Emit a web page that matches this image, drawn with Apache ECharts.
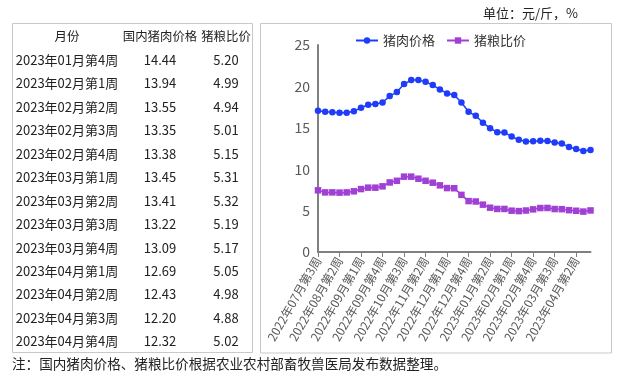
<!DOCTYPE html>
<html>
<head>
<meta charset="utf-8">
<script src="https://cdn.jsdelivr.net/npm/echarts@6/dist/echarts.min.js"></script>
<style>
html,body{margin:0;padding:0;background:#fff;}
#chart{width:624px;height:375px;}
</style>
</head>
<body>
<div id="chart"></div>
<script>
// ---- data ----
var categories = [
  '2022年07月第3周','2022年07月第4周','2022年08月第1周','2022年08月第2周','2022年08月第3周','2022年08月第4周',
  '2022年09月第1周','2022年09月第2周','2022年09月第3周','2022年09月第4周','2022年10月第1周','2022年10月第2周',
  '2022年10月第3周','2022年10月第4周','2022年11月第1周','2022年11月第2周','2022年11月第3周','2022年11月第4周',
  '2022年12月第1周','2022年12月第2周','2022年12月第3周','2022年12月第4周','2022年12月第5周','2023年01月第1周',
  '2023年01月第2周','2023年01月第3周','2023年01月第4周','2023年02月第1周','2023年02月第2周','2023年02月第3周',
  '2023年02月第4周','2023年03月第1周','2023年03月第2周','2023年03月第3周','2023年03月第4周','2023年04月第1周',
  '2023年04月第2周','2023年04月第3周','2023年04月第4周'
];
var porkPrice = [17.05,16.93,16.89,16.81,16.81,17.01,17.42,17.78,17.86,18.06,18.83,19.31,20.28,20.76,20.76,20.56,20.16,19.63,19.15,18.95,18.06,16.93,16.45,15.60,14.96,14.45,14.44,13.94,13.55,13.35,13.38,13.45,13.41,13.22,13.09,12.69,12.43,12.20,12.32];
var hogGrainRatio = [7.45,7.20,7.20,7.17,7.20,7.33,7.60,7.77,7.77,7.93,8.40,8.60,9.10,9.10,8.85,8.60,8.37,8.05,7.72,7.70,6.90,6.15,6.10,5.72,5.35,5.20,5.20,4.99,4.94,5.01,5.15,5.31,5.32,5.19,5.17,5.05,4.98,4.88,5.02];
var seriesNames = ['猪肉价格','猪粮比价'];
var tableHeaders = ['月份','国内猪肉价格','猪粮比价'];
var tableRowCount = 13;
var unitText = '单位：元/斤，%';
var noteText = '注：国内猪肉价格、猪粮比价根据农业农村部畜牧兽医局发布数据整理。';

// ---- build ----
var FONT = '"Noto Sans CJK SC", "Noto Sans", sans-serif';
var TEXT_COLOR = '#222222';
var BLUE = '#1E3CFA';
var PURPLE = '#A040D4';

var graphics = [];
graphics.push({type:'rect', shape:{x:12.5,y:23.5,width:240,height:329}, style:{fill:'none',stroke:'#C9C9C9',lineWidth:1}, silent:true});
graphics.push({type:'rect', shape:{x:260.5,y:23.5,width:351,height:329.5}, style:{fill:'none',stroke:'#C9C9C9',lineWidth:1}, silent:true});

function txt(x, y, s, size, align, fam, color) {
  return {type:'text', silent:true, style:{
    x:x, y:y, text:s, fill:color||TEXT_COLOR,
    font: size + 'px ' + (fam||FONT),
    textAlign: align||'center', textVerticalAlign:'middle',
    align: align||'center', verticalAlign:'middle'
  }};
}
var colX = [67, 160, 226];
var headerY = 36.5;
var rowY0 = 60, rowStep = 23.45;
tableHeaders.forEach(function(h, i){ graphics.push(txt(colX[i], headerY, h, 12.4)); });
var start = categories.length - tableRowCount;
for (var r = 0; r < tableRowCount; r++) {
  var idx = start + r;
  var y = rowY0 + r*rowStep;
  graphics.push(txt(colX[0], y, categories[idx], 13));
  graphics.push(txt(colX[1], y, porkPrice[idx].toFixed(2), 13));
  graphics.push(txt(colX[2], y, hogGrainRatio[idx].toFixed(2), 13));
}
graphics.push(txt(578, 13, unitText, 13, 'right'));
graphics.push(txt(12, 364, noteText, 13.6, 'left'));

var chart = echarts.init(document.getElementById('chart'), null, {renderer:'canvas'});
chart.setOption({
  animation: false,
  backgroundColor: '#ffffff',
  textStyle: {fontFamily: FONT},
  legend: {
    left: 350, top: 29,
    itemWidth: 22, itemHeight: 8, itemGap: 11,
    textStyle: {fontSize: 13, color: '#333333', fontFamily: FONT},
    data: seriesNames
  },
  grid: {left: 318, right: 33.5, top: 45, bottom: 123, containLabel: false},
  xAxis: {
    type: 'category',
    data: categories,
    boundaryGap: false,
    axisLine: {show: true, lineStyle: {color: '#808080', width: 2}},
    axisTick: {show: true, interval: 2, length: 5, lineStyle: {color: '#808080', width: 1}},
    axisLabel: {interval: 2, rotate: 60, fontSize: 12, color: '#595959', margin: 6, fontFamily: FONT},
    splitLine: {show: false}
  },
  yAxis: {
    type: 'value',
    min: 0, max: 25, interval: 5,
    axisLine: {show: true, lineStyle: {color: '#808080', width: 2}},
    axisTick: {show: false},
    axisLabel: {fontSize: 14, color: '#595959', margin: 8, fontFamily: FONT},
    splitLine: {show: false}
  },
  series: [
    {
      name: seriesNames[0], type: 'line', data: porkPrice,
      symbol: 'circle', symbolSize: 6.5, showAllSymbol: true,
      itemStyle: {color: BLUE},
      lineStyle: {color: BLUE, width: 1.5}
    },
    {
      name: seriesNames[1], type: 'line', data: hogGrainRatio,
      symbol: 'rect', symbolSize: 6.5, showAllSymbol: true,
      itemStyle: {color: PURPLE},
      lineStyle: {color: PURPLE, width: 1.5}
    }
  ],
  graphic: graphics
});
</script>
</body>
</html>
